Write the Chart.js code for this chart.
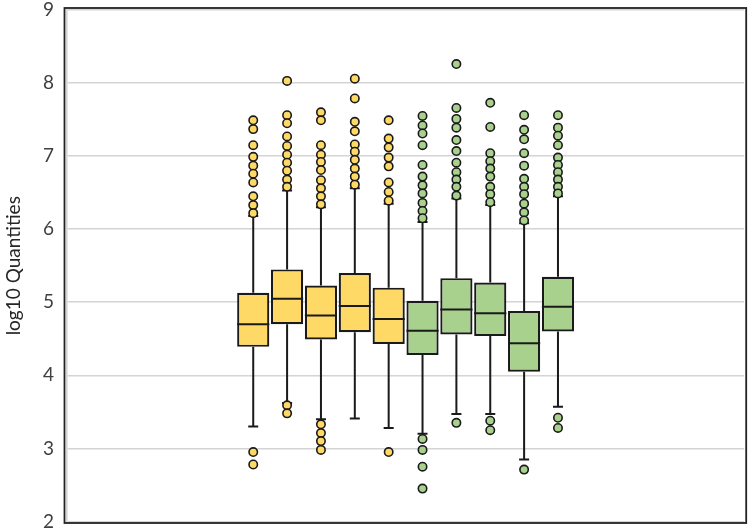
<!DOCTYPE html>
<html>
<head>
<meta charset="utf-8">
<script src="https://cdn.jsdelivr.net/npm/chart.js@4"></script>
<style>
  html, body { margin: 0; background: #fff; }
  #wrap { width: 750px; height: 532px; }
</style>
</head>
<body>
<div id="wrap"><canvas id="chart"></canvas></div>
<script>
// ── Data ──
const groups      = ['G1', 'G2', 'G3', 'G4', 'G5', 'G6', 'G7', 'G8', 'G9', 'G10'];
const q1          = [4.39, 4.70, 4.49, 4.59, 4.43, 4.28, 4.56, 4.54, 4.05, 4.60];
const median      = [4.70, 5.05, 4.82, 4.95, 4.77, 4.61, 4.90, 4.85, 4.44, 4.94];
const q3          = [5.13, 5.45, 5.23, 5.40, 5.20, 5.02, 5.33, 5.27, 4.88, 5.35];
const whiskerLow  = [3.30, 3.62, 3.40, 3.41, 3.28, 3.20, 3.47, 3.47, 2.85, 3.57];
const whiskerHigh = [6.18, 6.53, 6.30, 6.56, 6.35, 6.10, 6.42, 6.33, 6.08, 6.45];
const outliers = [
  [7.49, 7.37, 7.15, 6.99, 6.87, 6.76, 6.64, 6.45, 6.33, 6.22, 2.95, 2.78],
  [8.03, 7.56, 7.45, 7.27, 7.14, 7.02, 6.91, 6.80, 6.68, 6.58, 3.59, 3.48],
  [7.60, 7.49, 7.15, 7.02, 6.92, 6.81, 6.67, 6.56, 6.45, 6.34, 3.33, 3.21, 3.10, 2.98],
  [8.06, 7.79, 7.47, 7.34, 7.16, 7.06, 6.95, 6.83, 6.72, 6.61],
  [7.49, 7.24, 7.12, 6.98, 6.86, 6.64, 6.51, 6.39, 2.95],
  [7.55, 7.42, 7.31, 7.15, 6.88, 6.72, 6.60, 6.49, 6.36, 6.25, 6.15, 3.13, 2.98, 2.75, 2.45],
  [8.26, 7.66, 7.51, 7.39, 7.22, 7.07, 6.91, 6.78, 6.68, 6.58, 6.46, 3.35],
  [7.73, 7.40, 7.04, 6.93, 6.83, 6.72, 6.58, 6.48, 6.37, 3.38, 3.25],
  [7.56, 7.36, 7.23, 7.04, 6.87, 6.69, 6.58, 6.48, 6.35, 6.23, 6.12, 2.71],
  [7.56, 7.39, 7.28, 7.15, 6.98, 6.88, 6.78, 6.68, 6.58, 6.49, 3.42, 3.28],
];
const fills = ['#FFD966', '#FFD966', '#FFD966', '#FFD966', '#FFD966',
               '#A9D18E', '#A9D18E', '#A9D18E', '#A9D18E', '#A9D18E'];
const yTicks = [2, 3, 4, 5, 6, 7, 8, 9];

// boxes sit in the middle of a 20-slot x range
const X_MIN = 0, X_MAX = 20, X_OFFSET = 5.5;
const slot = i => i + X_OFFSET;
const INK = '#1a1a1a';

const boxData = groups.map((g, i) => ({ x: slot(i), y: [q1[i], q3[i]] }));
const outlierData = [];
outliers.forEach((list, i) => list.forEach(v => outlierData.push({ x: slot(i), y: v, g: i })));

// ── whiskers, medians and frame ──
const boxPlot = {
  id: 'boxPlot',
  beforeDatasetsDraw(chart) {
    const { ctx, scales: { x, y } } = chart;
    ctx.save();
    ctx.strokeStyle = INK; ctx.lineWidth = 2;
    groups.forEach((g, i) => {
      const px = x.getPixelForValue(slot(i));
      ctx.beginPath();
      ctx.moveTo(px, y.getPixelForValue(q3[i])); ctx.lineTo(px, y.getPixelForValue(whiskerHigh[i]));
      ctx.moveTo(px, y.getPixelForValue(q1[i])); ctx.lineTo(px, y.getPixelForValue(whiskerLow[i]));
      [whiskerLow[i], whiskerHigh[i]].forEach(v => {
        const py = y.getPixelForValue(v);
        ctx.moveTo(px - 5, py); ctx.lineTo(px + 5, py);
      });
      ctx.stroke();
    });
    ctx.restore();
  },
  afterDatasetDraw(chart, args) {
    if (args.index !== 0) return;
    const { ctx, scales: { y } } = chart;
    ctx.save();
    ctx.strokeStyle = INK; ctx.lineWidth = 2;
    args.meta.data.forEach((bar, i) => {
      const py = y.getPixelForValue(median[i]);
      ctx.beginPath();
      ctx.moveTo(bar.x - bar.width / 2, py); ctx.lineTo(bar.x + bar.width / 2, py);
      ctx.stroke();
    });
    ctx.restore();
  },
  afterDraw(chart) {
    const { ctx, chartArea: a } = chart;
    ctx.save();
    ctx.strokeStyle = '#222'; ctx.lineWidth = 1.8;
    ctx.strokeRect(a.left - 2.5, a.top - 2, a.right - a.left + 4.5, a.bottom - a.top + 3.5);
    ctx.restore();
  }
};

new Chart(document.getElementById('chart'), {
  data: {
    datasets: [
      {
        type: 'bar', data: boxData, order: 2,
        backgroundColor: fills, borderColor: INK, borderWidth: 2.2, borderSkipped: false,
        categoryPercentage: 1, barPercentage: 0.95
      },
      {
        type: 'scatter', data: outlierData, order: 1,
        pointRadius: 4.2, pointBorderWidth: 1.6, pointBorderColor: INK,
        pointBackgroundColor: ctx => fills[ctx.raw ? ctx.raw.g : 0]
      }
    ]
  },
  options: {
    responsive: true, maintainAspectRatio: false, animation: false,
    layout: { padding: { left: 0, right: 5, top: 10, bottom: 10.5 } },
    plugins: { legend: { display: false }, tooltip: { enabled: false } },
    scales: {
      x: { type: 'linear', min: X_MIN, max: X_MAX, offset: false, display: false },
      y: {
        min: 2, max: 9,
        afterFit: s => { s.width = 67; s.paddingTop = 0; s.paddingBottom = 0; },
        afterBuildTicks: s => { s.ticks = yTicks.map(v => ({ value: v })); },
        grid: { color: '#d4d4d4', lineWidth: 1.6, drawTicks: false },
        border: { color: '#d4d4d4', width: 1.6 },
        ticks: { padding: 13, color: '#404040', font: { family: 'Lato', size: 19 } },
        title: { display: true, text: 'log10 Quantities', color: '#262626',
                 padding: { top: 2, bottom: 0 }, font: { family: 'Lato', size: 19 } }
      }
    }
  },
  plugins: [boxPlot]
});
</script>
</body>
</html>
